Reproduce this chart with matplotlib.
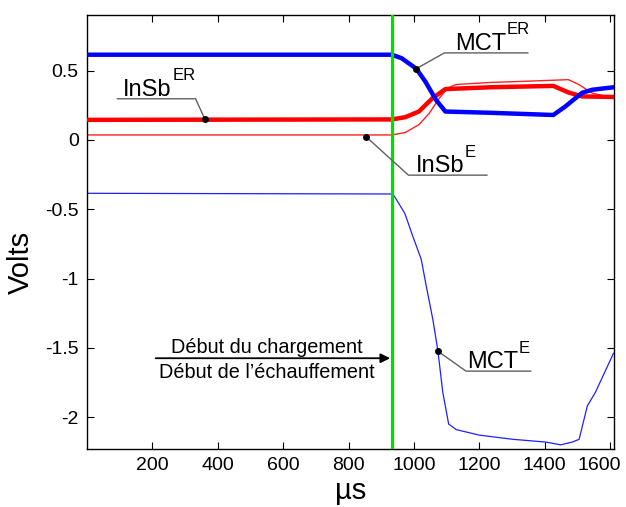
import matplotlib
matplotlib.use("Agg")
import matplotlib.pyplot as plt
from matplotlib.transforms import ScaledTranslation

plt.rcParams['font.family'] = ['Liberation Sans', 'DejaVu Sans']

# Signals (time in µs, voltage in V)
t_mct_er = [0, 932, 962, 1007, 1035, 1067, 1096, 1233, 1426, 1462, 1514, 1545, 1610]
v_mct_er = [0.615, 0.615, 0.59, 0.514, 0.42, 0.29, 0.205, 0.196, 0.18, 0.24, 0.34, 0.362, 0.38]

t_insb_er = [0, 932, 973, 1015, 1056, 1096, 1233, 1426, 1472, 1514, 1610]
v_insb_er = [0.145, 0.148, 0.164, 0.205, 0.30, 0.367, 0.38, 0.39, 0.343, 0.314, 0.31]

t_insb_e = [0, 932, 973, 1015, 1046, 1077, 1103, 1129, 1233, 1337, 1472, 1504, 1545, 1577, 1610]
v_insb_e = [0.036, 0.036, 0.053, 0.11, 0.19, 0.30, 0.375, 0.40, 0.415, 0.423, 0.435, 0.40, 0.338, 0.32, 0.31]

t_mct_e = [0, 934, 941, 972, 997, 1022, 1038, 1058, 1073, 1088, 1106, 1129, 1200, 1302, 1403,
           1449, 1484, 1505, 1530, 1555, 1610]
v_mct_e = [-0.385, -0.39, -0.41, -0.53, -0.70, -0.86, -1.06, -1.30, -1.52, -1.82, -2.05, -2.09,
           -2.13, -2.16, -2.18, -2.20, -2.18, -2.16, -1.92, -1.82, -1.54]

t_start = 932
x_ticks = [200, 400, 600, 800, 1000, 1200, 1400, 1600]
y_ticks = [0.5, 0, -0.5, -1, -1.5, -2]
y_tick_labels = ['0.5', '0', '-0.5', '-1', '-1.5', '-2']

fig = plt.figure(figsize=(6.26, 5.07), dpi=100)
ax = fig.add_axes([0.139, 0.1144, 0.842, 0.8556])

ax.plot(t_mct_e, v_mct_e, color='#2020ff', lw=0.9, zorder=2)
ax.plot(t_insb_e, v_insb_e, color='#ff2020', lw=1.0, zorder=2)
ax.plot(t_insb_er, v_insb_er, color='#ff0000', lw=3.2, zorder=3)
ax.plot(t_mct_er, v_mct_er, color='#0000ff', lw=3.2, zorder=4)
ax.axvline(t_start, color='#00e000', lw=2.3, zorder=5)

ax.set_xlim(0, 1612)
ax.set_ylim(-2.23, 0.90)
ax.set_xticks(x_ticks)
ax.set_yticks(y_ticks)
ax.set_yticklabels(y_tick_labels)
ax.tick_params(direction='in', top=True, right=True, length=5, labelsize=14,
               colors='black', pad=6)
for s in ax.spines.values():
    s.set_linewidth(1.0)

# keep the last x tick label inside the figure
last = ax.get_xticklabels()[-1]
last.set_transform(last.get_transform() + ScaledTranslation(-0.11, 0, fig.dpi_scale_trans))

ax.set_xlabel('µs', fontsize=21, labelpad=2)
ax.set_ylabel('Volts', fontsize=21)
ax.yaxis.set_label_coords(-0.099, 0.43)

# Callouts: dot on the curve, leader line, underline, label with superscript
grey = '#606060'
def callout(dot, knee, end, base, sup, tx):
    ax.plot([dot[0]], [dot[1]], 'o', color='black', ms=4, zorder=7)
    ax.plot([dot[0], knee[0], end], [dot[1], knee[1], knee[1]], color=grey, lw=1.0, zorder=6)
    t = ax.annotate(base, xy=(tx, knee[1]), xytext=(0, 2), textcoords='offset points',
                    fontsize=17, ha='left', va='baseline', zorder=7)
    ax.annotate(sup, xy=(1, 0), xycoords=t, xytext=(0.5, 15), textcoords='offset points',
                fontsize=12, ha='left', va='baseline', zorder=7)

callout((1007, 0.514), (1093, 0.628), 1348, 'MCT', 'ER', 1125)
callout((360, 0.152), (332, 0.297), 93, 'InSb', 'ER', 110)
callout((853, 0.024), (983, -0.254), 1223, 'InSb', 'E', 1005)
callout((1073, -1.524), (1159, -1.668), 1357, 'MCT', 'E', 1162)

ax.annotate('', xy=(927, -1.575), xytext=(210, -1.575),
            arrowprops=dict(arrowstyle='-|>', color='black', lw=1.3,
                            mutation_scale=14, shrinkA=0, shrinkB=0), zorder=6)
ax.text(549, -1.50, 'Début du chargement', fontsize=14.3, ha='center', va='center')
ax.text(549, -1.675, 'Début de l\u2019échauffement', fontsize=14.3, ha='center', va='center')

fig.savefig('out.png', dpi=100)
